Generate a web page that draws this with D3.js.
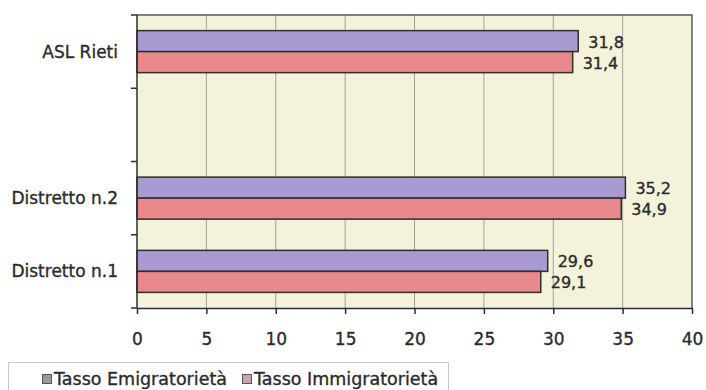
<!DOCTYPE html>
<html>
<head>
<meta charset="utf-8">
<script src="https://cdn.jsdelivr.net/npm/d3@7"></script>
<style>
  html, body { margin: 0; padding: 0; background: #ffffff; }
  svg { display: block; }
  text { font-family: "DejaVu Sans", Verdana, sans-serif; fill: #2b2b2b; stroke: #2b2b2b; stroke-width: 0.35px; }
</style>
</head>
<body>
<svg id="chart" width="706" height="390"></svg>
<script>
// Categories, top to bottom (the blank entry is an empty row in the chart)
const categories = ["ASL Rieti", "", "Distretto n.2", "Distretto n.1"];
const seriesNames = ["Tasso Emigratorietà", "Tasso Immigratorietà"];
const emigratorieta = [31.8, null, 35.2, 29.6];
const immigratorieta = [31.4, null, 34.9, 29.1];
const xTicks = [0, 5, 10, 15, 20, 25, 30, 35, 40];

const colors = { "Tasso Emigratorietà": "#a99bd2", "Tasso Immigratorietà": "#e8898b" };
const legendSwatch = { "Tasso Emigratorietà": "#9a9a9a", "Tasso Immigratorietà": "#c9a2b4" };

const svg = d3.select("#chart");
const plot = { left: 137, right: 692, top: 15, bottom: 308 };

const x = d3.scaleLinear().domain([0, 40]).range([plot.left, plot.right]);
const y = d3.scaleBand().domain(categories).range([plot.top, plot.bottom]).paddingInner(0).paddingOuter(0);
const ySub = d3.scaleBand().domain(seriesNames).range([0, y.bandwidth()]).paddingInner(0).paddingOuter(0.744);

// plot background
svg.append("rect")
  .attr("x", plot.left).attr("y", plot.top)
  .attr("width", plot.right - plot.left).attr("height", plot.bottom - plot.top)
  .attr("fill", "#f4f2da");

// vertical gridlines
svg.append("g").selectAll("line")
  .data(xTicks.filter(t => t > 0 && t < 40))
  .join("line")
  .attr("x1", d => x(d)).attr("x2", d => x(d))
  .attr("y1", plot.top).attr("y2", plot.bottom)
  .attr("stroke", "#a3a394").attr("stroke-width", 1);

// top and right frame
svg.append("path")
  .attr("d", `M${plot.left},${plot.top}H${plot.right}V${plot.bottom}`)
  .attr("fill", "none").attr("stroke", "#5a5a5a").attr("stroke-width", 1.5);

// bars
const rows = categories.map((c, i) => ({
  cat: c,
  vals: [
    { s: seriesNames[0], v: emigratorieta[i] },
    { s: seriesNames[1], v: immigratorieta[i] }
  ].filter(d => d.v != null)
}));

const groups = svg.append("g").selectAll("g")
  .data(rows).join("g")
  .attr("transform", d => `translate(0,${y(d.cat)})`);

groups.selectAll("rect")
  .data(d => d.vals).join("rect")
  .attr("x", x(0))
  .attr("y", d => ySub(d.s))
  .attr("width", d => x(d.v) - x(0))
  .attr("height", ySub.bandwidth())
  .attr("fill", d => colors[d.s])
  .attr("stroke", "#2e2e2e").attr("stroke-width", 1.5);

const fmt = v => d3.format(".1f")(v).replace(".", ",");
groups.selectAll("text.val")
  .data(d => d.vals).join("text")
  .attr("class", "val")
  .attr("x", d => x(d.v) + 10)
  .attr("y", d => ySub(d.s) + ySub.bandwidth() / 2 + 1)
  .attr("dy", "0.35em")
  .attr("font-size", 16)
  .text(d => fmt(d.v));

// x axis
const xAxis = svg.append("g")
  .attr("transform", `translate(0,${plot.bottom})`)
  .call(d3.axisBottom(x).tickValues(xTicks).tickSize(6).tickSizeOuter(0).tickPadding(19).tickFormat(d3.format("d")));
xAxis.select(".domain").attr("stroke", "#2e2e2e").attr("stroke-width", 1.5);
xAxis.selectAll(".tick line").attr("stroke", "#2e2e2e").attr("stroke-width", 1.5);
xAxis.selectAll(".tick text").attr("font-size", 17).attr("fill", "#2b2b2b")
  .style("font-family", "'DejaVu Sans', Verdana, sans-serif");

// y axis: line plus ticks at band boundaries
const yEdges = categories.map(c => y(c)).concat([plot.bottom]);
svg.append("line")
  .attr("x1", plot.left).attr("x2", plot.left)
  .attr("y1", plot.top).attr("y2", plot.bottom)
  .attr("stroke", "#2e2e2e").attr("stroke-width", 1.5);
svg.append("g").selectAll("line")
  .data(yEdges).join("line")
  .attr("x1", plot.left - 6).attr("x2", plot.left)
  .attr("y1", d => d).attr("y2", d => d)
  .attr("stroke", "#2e2e2e").attr("stroke-width", 1.5);

svg.append("g").selectAll("text")
  .data(categories.filter(c => c !== "")).join("text")
  .attr("x", plot.left - 19)
  .attr("y", d => y(d) + y.bandwidth() / 2)
  .attr("dy", "0.35em")
  .attr("text-anchor", "end")
  .attr("font-size", 17)
  .text(d => d);

// legend
const legend = svg.append("g");
legend.append("rect")
  .attr("x", 8.5).attr("y", 362.5).attr("width", 440).attr("height", 40)
  .attr("fill", "#ffffff").attr("stroke", "#c8c8c8").attr("stroke-width", 1);

const legendX = [42, 242];
const items = legend.selectAll("g.item")
  .data(seriesNames).join("g")
  .attr("class", "item")
  .attr("transform", (d, i) => `translate(${legendX[i]},0)`);
items.append("rect")
  .attr("x", 0.5).attr("y", 374.5).attr("width", 9).attr("height", 9)
  .attr("fill", d => legendSwatch[d]).attr("stroke", "#555").attr("stroke-width", 1);
items.append("text")
  .attr("x", 12).attr("y", 379).attr("dy", "0.35em")
  .attr("font-size", 17.5)
  .text(d => d);
</script>
</body>
</html>
